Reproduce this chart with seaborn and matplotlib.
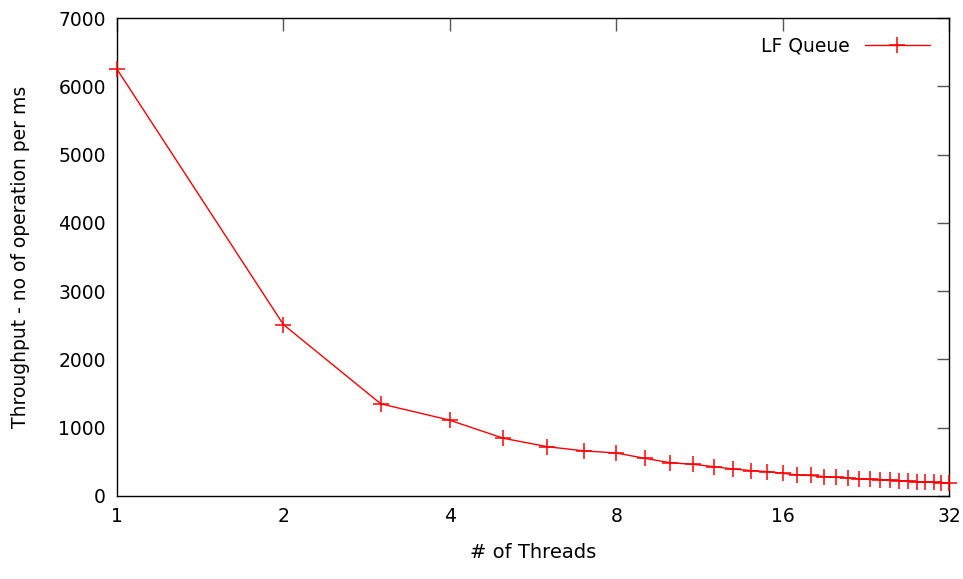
import numpy as np
import pandas as pd
import seaborn as sns
import matplotlib.pyplot as plt
from matplotlib.ticker import FixedLocator, FixedFormatter, NullLocator

threads = list(range(1, 33))
throughput = [6250, 2510, 1350, 1110, 845, 722, 660, 630, 552, 488,
              464, 430, 395, 372, 356, 333, 308, 300, 284, 273,
              264, 250, 245, 240, 234, 225, 216, 210, 205, 200,
              196, 195]
xticks = [1, 2, 4, 8, 16, 32]
yticks = [0, 1000, 2000, 3000, 4000, 5000, 6000, 7000]

df = pd.DataFrame({"threads": threads, "throughput": throughput})

sns.set_style("white")
plt.rcParams['font.family'] = ['DejaVu Sans']
plt.rcParams['text.color'] = 'black'
plt.rcParams['axes.labelcolor'] = 'black'
plt.rcParams['xtick.labelcolor'] = 'black'
plt.rcParams['ytick.labelcolor'] = 'black'

fig = plt.figure(figsize=(9.63, 5.79), dpi=100)
ax = fig.add_axes([0.1215, 0.1434, 0.864, 0.8255])

sns.lineplot(data=df, x="threads", y="throughput", ax=ax, color="red",
             marker="+", markersize=12, markeredgewidth=1.1,
             markeredgecolor="red", linewidth=1, label="LF Queue",
             clip_on=False, zorder=3)

ax.set_xscale("log", base=2)
ax.set_xlim(1, 32)
ax.set_ylim(0, 7000)
ax.xaxis.set_major_locator(FixedLocator(xticks))
ax.xaxis.set_major_formatter(FixedFormatter([str(t) for t in xticks]))
ax.xaxis.set_minor_locator(NullLocator())
ax.set_yticks(yticks)

ax.tick_params(direction="in", length=9, width=1, color="#555555",
               top=True, right=True, labelsize=13.5, pad=8,
               labelcolor="black")
for s in ax.spines.values():
    s.set_color("black")
    s.set_linewidth(1)

ax.set_xlabel("# of Threads", fontsize=14, labelpad=12, color="black")
ax.set_ylabel("Throughput - no of operation per ms", fontsize=13.5,
              labelpad=20, color="black")

ax.legend(loc="upper right", frameon=False, markerfirst=False, fontsize=13.5,
          handlelength=3.5, borderaxespad=0.6)

fig.savefig("out.png", dpi=100)
